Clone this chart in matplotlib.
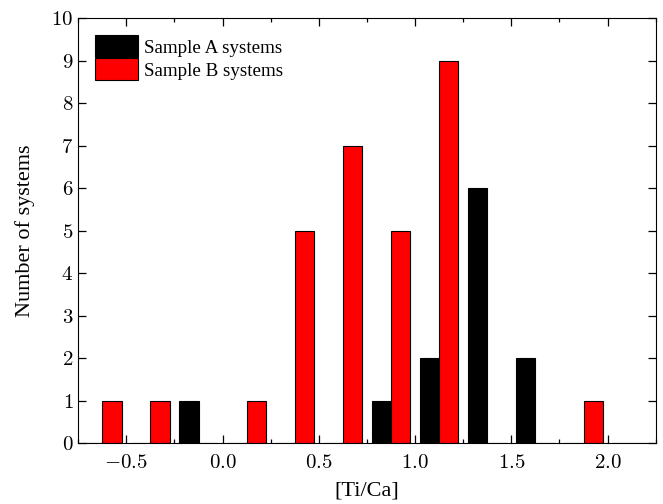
import matplotlib
matplotlib.use("Agg")
import matplotlib.pyplot as plt
from matplotlib.ticker import FuncFormatter, MultipleLocator
import numpy as np

bin_edges = [-0.75, -0.5, -0.25, 0.0, 0.25, 0.5, 0.75, 1.0, 1.25, 1.5, 1.75, 2.0, 2.25]
counts_A = [0, 0, 1, 0, 0, 0, 1, 2, 6, 2, 0, 0]
counts_B = [1, 1, 0, 1, 5, 7, 5, 9, 0, 0, 1, 0]
labels = ["Sample A systems", "Sample B systems"]
colors = ["black", "red"]

plt.rcParams['mathtext.fontset'] = 'cm'
plt.rcParams['font.family'] = ['Liberation Serif', 'DejaVu Serif']

fig = plt.figure(figsize=(6.63, 5.04), dpi=100)
ax = fig.add_axes([0.118, 0.121, 0.871, 0.843])

edges = np.array(bin_edges)
centers = (edges[:-1] + edges[1:]) / 2
ax.hist([centers, centers], bins=edges, weights=[counts_A, counts_B],
        color=colors, edgecolor="black", linewidth=0.8, label=labels)

ax.set_xlim(-0.75, 2.25)
ax.set_ylim(0, 10)
ax.xaxis.set_major_locator(MultipleLocator(0.5))
ax.xaxis.set_minor_locator(MultipleLocator(0.25))
ax.yaxis.set_major_locator(MultipleLocator(1))
ax.xaxis.set_major_formatter(FuncFormatter(lambda v, p: r'$%.1f$' % v))
ax.yaxis.set_major_formatter(FuncFormatter(lambda v, p: r'$%d$' % round(v)))
ax.tick_params(which='both', direction='in', top=True, right=True, labelsize=15)
ax.tick_params(which='major', length=6, width=0.9)
ax.tick_params(which='minor', length=3, width=0.9)
ax.tick_params(axis='x', pad=8)

ax.set_xlabel("[Ti/Ca]", fontsize=16, labelpad=6)
ax.set_ylabel("Number of systems", fontsize=16, labelpad=12)

leg = ax.legend(loc='upper left', frameon=False, fontsize=13.7, handlelength=2.25,
                handleheight=1.4, handletextpad=0.3, labelspacing=0.05,
                borderaxespad=0.5)

fig.savefig("out.png", dpi=100)
